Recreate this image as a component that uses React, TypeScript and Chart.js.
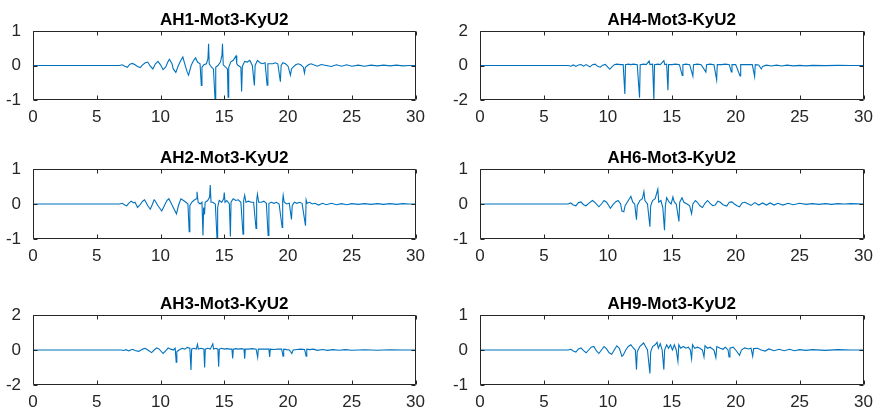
import React, { useEffect, useRef } from "react";
import { Chart, registerables } from "chart.js";

Chart.register(...registerables);

type Pt = [number, number];

// time (s) grid for x axis
const xTicks = [0, 5, 10, 15, 20, 25, 30];

const titles = [
  "AH1-Mot3-KyU2",
  "AH4-Mot3-KyU2",
  "AH2-Mot3-KyU2",
  "AH6-Mot3-KyU2",
  "AH3-Mot3-KyU2",
  "AH9-Mot3-KyU2",
];
const yLimits = [1, 2, 1, 1, 2, 1];

const ah1: Pt[] = [
  [0, 0], [6.8, 0], [7.0, 0.02], [7.2, -0.02], [7.4, -0.05], [7.6, 0.04], [7.8, 0.06], [8.0, 0.02], [8.2, -0.03], [8.4, -0.06],
  [8.6, 0.02], [8.8, 0.08], [9.0, 0.1], [9.2, -0.02], [9.4, -0.1], [9.6, 0.05], [9.8, 0.12], [10.0, 0.02], [10.2, -0.12], [10.4, -0.05],
  [10.6, 0.12], [10.7, 0.18], [10.9, 0.05], [11.0, -0.1], [11.2, -0.2], [11.4, 0.0], [11.6, 0.15], [11.75, 0.25], [11.9, 0.05], [12.1, -0.2],
  [12.2, -0.28], [12.4, 0.0], [12.6, 0.15], [12.75, 0.22], [12.9, 0.1], [13.1, 0.05], [13.2, -0.58], [13.25, -0.05], [13.4, 0.02], [13.6, 0.05],
  [13.72, 0.2], [13.77, 0.63], [13.82, 0.05], [14.0, -0.05], [14.15, -0.1], [14.28, -1.0], [14.33, -0.05], [14.5, 0.0], [14.7, 0.1], [14.82, 0.3],
  [14.86, 0.63], [14.92, 0.02], [15.1, -0.05], [15.25, -0.1], [15.3, -0.92], [15.35, -0.05], [15.5, 0.1], [15.7, 0.15], [15.92, 0.28], [15.98, 0.05],
  [16.1, 0.0], [16.3, -0.05], [16.36, -0.75], [16.42, -0.02], [16.6, 0.12], [16.8, 0.1], [17.0, 0.15], [17.2, 0.0], [17.36, -0.58], [17.42, 0.0],
  [17.6, 0.15], [17.8, 0.08], [18.0, 0.05], [18.2, 0.08], [18.36, -0.57], [18.42, 0.05], [18.6, 0.05], [18.8, 0.05], [19.0, 0.08], [19.2, 0.05],
  [19.4, -0.47], [19.46, 0.0], [19.6, 0.08], [19.8, 0.05], [20.0, -0.02], [20.19, -0.28], [20.27, -0.1], [20.4, -0.05], [20.6, 0.02], [20.8, 0.05],
  [21.0, 0.02], [21.2, -0.05], [21.29, -0.22], [21.36, -0.05], [21.6, 0.02], [21.8, 0.05], [22.0, 0.02], [22.3, -0.02], [22.6, 0.03], [23.0, 0.0],
  [23.4, -0.03], [23.8, 0.02], [24.2, -0.02], [24.6, 0.02], [25.0, -0.02], [25.5, 0.01], [26.0, -0.02], [26.5, 0.01], [27.0, -0.01], [27.5, 0.01],
  [28.0, -0.01], [28.5, 0.01], [29.0, -0.01], [29.5, 0.0], [30, 0],
];

const ah2: Pt[] = [
  [0, 0], [6.8, 0], [7.0, 0.02], [7.2, -0.03], [7.35, -0.05], [7.5, 0.02], [7.7, 0.08], [7.9, 0.03], [8.0, 0.05], [8.2, -0.1],
  [8.4, -0.02], [8.6, 0.08], [8.75, 0.12], [8.9, 0.02], [9.0, -0.05], [9.2, -0.15], [9.35, -0.02], [9.5, 0.12], [9.6, 0.08], [9.8, -0.05],
  [10.1, -0.2], [10.3, -0.05], [10.5, 0.1], [10.65, 0.15], [10.8, 0.05], [11.0, -0.1], [11.25, -0.28], [11.4, -0.05], [11.6, 0.15], [11.8, 0.1],
  [12.0, 0.05], [12.15, 0.0], [12.25, -0.79], [12.3, -0.05], [12.45, 0.05], [12.6, 0.1], [12.8, 0.15], [12.86, 0.35], [12.95, 0.05], [13.1, 0.0],
  [13.25, 0.05], [13.33, -0.9], [13.38, -0.1], [13.45, -0.3], [13.5, 0.05], [13.7, 0.1], [13.85, 0.2], [13.9, 0.54], [13.96, 0.05], [14.1, 0.05],
  [14.3, 0.0], [14.43, -1.0], [14.48, -0.1], [14.6, 0.1], [14.8, 0.05], [14.95, 0.15], [15.0, 0.33], [15.06, 0.05], [15.2, 0.1], [15.4, 0.0],
  [15.48, -0.93], [15.53, 0.05], [15.7, 0.15], [15.9, 0.1], [16.1, 0.12], [16.3, 0.05], [16.47, -0.86], [16.52, 0.1], [16.6, 0.25], [16.7, 0.05],
  [16.9, 0.08], [17.1, 0.05], [17.3, 0.05], [17.49, -0.7], [17.54, 0.1], [17.6, 0.28], [17.7, 0.05], [17.9, 0.05], [18.1, 0.08], [18.3, 0.02],
  [18.44, -0.9], [18.5, 0.02], [18.7, 0.05], [18.9, 0.02], [19.1, 0.05], [19.3, 0.0], [19.54, -0.67], [19.58, 0.1], [19.62, 0.25], [19.7, 0.05],
  [19.9, 0.0], [20.1, 0.02], [20.27, -0.44], [20.33, -0.05], [20.5, 0.05], [20.7, 0.02], [20.9, 0.05], [21.1, 0.02], [21.37, -0.62], [21.42, 0.12],
  [21.5, 0.02], [21.7, 0.05], [21.9, 0.0], [22.1, 0.02], [22.4, -0.03], [22.7, 0.02], [23.0, -0.02], [23.4, 0.02], [23.8, -0.02], [24.2, 0.01],
  [24.6, -0.02], [25.0, 0.01], [25.5, -0.01], [26.0, 0.01], [26.5, -0.01], [27.0, 0.01], [27.5, -0.01], [28.0, 0.01], [28.5, -0.01], [29.0, 0.01],
  [29.5, 0.0], [30, 0],
];

const ah3: Pt[] = [
  [0, 0], [6.9, 0], [7.1, -0.03], [7.3, 0.02], [7.5, -0.05], [7.8, 0.04], [8.0, -0.03], [8.3, -0.08], [8.6, 0.05], [8.8, 0.1],
  [9.0, 0.0], [9.3, -0.15], [9.5, 0.0], [9.7, 0.12], [9.9, 0.05], [10.2, -0.2], [10.4, -0.05], [10.6, 0.12], [10.8, 0.05], [11.0, 0.0],
  [11.15, 0.1], [11.23, -0.7], [11.28, -0.1], [11.45, 0.0], [11.7, 0.1], [11.9, 0.05], [12.1, 0.15], [12.3, 0.1], [12.39, -1.14], [12.44, 0.05],
  [12.6, 0.1], [12.8, 0.05], [12.9, 0.32], [12.96, 0.05], [13.2, 0.1], [13.4, 0.05], [13.46, -1.0], [13.51, 0.05], [13.7, 0.1], [13.9, 0.05],
  [14.1, 0.35], [14.16, 0.05], [14.35, 0.1], [14.5, 0.05], [14.56, -0.95], [14.61, 0.05], [14.8, 0.1], [15.0, 0.05], [15.2, 0.08], [15.45, 0.05],
  [15.6, 0.05], [15.66, -0.48], [15.71, 0.05], [15.9, 0.08], [16.1, 0.05], [16.35, 0.08], [16.55, 0.05], [16.6, -0.5], [16.65, 0.05], [16.9, 0.05],
  [17.2, 0.08], [17.5, 0.05], [17.62, -0.42], [17.67, 0.05], [17.9, 0.05], [18.2, 0.05], [18.5, 0.05], [18.56, -0.4], [18.61, 0.05], [18.9, 0.03],
  [19.2, 0.05], [19.5, 0.05], [19.61, -0.35], [19.66, 0.05], [19.9, 0.02], [20.1, 0.0], [20.3, -0.2], [20.4, 0.0], [20.7, 0.03], [21.0, 0.05],
  [21.3, 0.03], [21.42, -0.35], [21.47, 0.05], [21.7, 0.02], [22.0, 0.05], [22.3, -0.02], [22.7, 0.03], [23.1, -0.02], [23.5, 0.02], [24.0, -0.01],
  [24.5, 0.02], [25.0, -0.01], [26.0, 0.01], [27.0, -0.01], [28.0, 0.01], [29.0, 0.0], [30, 0],
];

const ah4: Pt[] = [
  [0, 0], [6.9, 0], [7.1, -0.04], [7.3, 0.03], [7.5, -0.05], [7.7, 0.03], [7.9, 0.06], [8.1, -0.04], [8.3, 0.05], [8.6, -0.08],
  [8.8, 0.05], [9.0, 0.08], [9.2, -0.05], [9.4, -0.1], [9.6, 0.02], [9.8, 0.06], [10.0, -0.1], [10.15, -0.22], [10.3, -0.1], [10.5, 0.05],
  [10.7, 0.08], [11.0, 0.05], [11.2, 0.05], [11.33, -1.65], [11.38, 0.05], [11.6, 0.08], [11.8, 0.05], [12.0, 0.08], [12.3, 0.05], [12.48, -1.87],
  [12.53, 0.05], [12.8, 0.08], [13.0, 0.05], [13.23, 0.26], [13.3, 0.05], [13.5, 0.08], [13.6, -2.0], [13.65, 0.05], [13.9, 0.08], [14.1, 0.05],
  [14.38, 0.28], [14.45, 0.05], [14.6, 0.08], [14.7, -1.43], [14.75, 0.05], [15.0, 0.05], [15.3, 0.08], [15.6, 0.05], [15.82, -0.58], [15.87, 0.05],
  [16.1, 0.08], [16.4, 0.05], [16.65, -0.62], [16.7, 0.05], [17.0, 0.08], [17.3, 0.05], [17.67, -0.38], [17.72, 0.05], [18.0, 0.08], [18.3, 0.05],
  [18.51, -0.83], [18.56, 0.05], [18.9, 0.05], [19.2, 0.08], [19.5, 0.05], [19.66, -0.38], [19.71, 0.05], [20.0, 0.06], [20.34, -0.6], [20.39, 0.05],
  [20.7, 0.06], [21.0, 0.05], [21.3, 0.05], [21.48, -0.64], [21.53, 0.05], [21.8, 0.03], [22.0, -0.2], [22.1, -0.05], [22.4, 0.02], [22.8, -0.03],
  [23.2, 0.02], [23.6, -0.03], [24.0, 0.02], [24.5, -0.02], [25.0, 0.01], [25.5, -0.02], [26.0, 0.01], [27.0, -0.01], [28.0, 0.01], [29.0, 0.0],
  [30, 0],
];

const ah6: Pt[] = [
  [0, 0], [6.9, 0], [7.1, 0.03], [7.3, -0.03], [7.5, -0.05], [7.7, 0.04], [7.9, 0.06], [8.1, -0.02], [8.3, -0.05], [8.5, 0.02],
  [8.8, 0.1], [9.0, 0.04], [9.3, -0.08], [9.5, 0.0], [9.7, 0.1], [9.9, 0.05], [10.2, -0.12], [10.4, -0.02], [10.6, 0.06], [10.8, 0.1],
  [11.0, 0.0], [11.1, -0.2], [11.25, -0.22], [11.35, -0.05], [11.6, 0.1], [11.8, 0.22], [11.95, 0.05], [12.1, 0.0], [12.24, -0.45], [12.3, -0.05],
  [12.5, 0.1], [12.7, 0.15], [12.82, 0.36], [12.9, 0.1], [13.1, 0.0], [13.29, -0.65], [13.35, -0.05], [13.5, 0.1], [13.7, 0.15], [13.91, 0.42],
  [13.98, 0.05], [14.15, 0.1], [14.3, -0.1], [14.43, -0.75], [14.5, -0.05], [14.6, 0.18], [14.8, 0.05], [14.95, 0.0], [15.09, 0.2], [15.2, 0.05],
  [15.35, 0.0], [15.56, -0.5], [15.62, 0.05], [15.8, 0.18], [15.95, 0.05], [16.2, 0.0], [16.4, -0.05], [16.55, -0.28], [16.65, 0.0], [16.85, 0.1],
  [17.0, 0.05], [17.2, -0.05], [17.4, -0.1], [17.6, 0.02], [17.8, 0.1], [18.0, 0.02], [18.2, -0.05], [18.4, -0.03], [18.6, 0.08], [18.8, 0.05],
  [19.0, -0.02], [19.3, -0.06], [19.5, 0.05], [19.7, 0.06], [19.9, 0.0], [20.1, -0.05], [20.3, -0.08], [20.5, 0.03], [20.7, 0.05], [21.0, 0.0],
  [21.2, -0.04], [21.5, 0.04], [21.8, -0.03], [22.1, 0.03], [22.4, -0.03], [22.7, 0.03], [23.0, -0.03], [23.3, 0.02], [23.7, -0.03], [24.1, 0.02],
  [24.5, -0.02], [25.0, 0.02], [25.5, -0.01], [26.0, 0.01], [26.5, -0.01], [27.0, 0.01], [27.5, -0.01], [28.0, 0.01], [28.5, 0.0], [29.0, 0.01],
  [30, 0],
];

const ah9: Pt[] = [
  [0, 0], [6.9, 0], [7.1, 0.02], [7.3, -0.03], [7.5, -0.06], [7.7, 0.03], [7.9, 0.06], [8.1, -0.02], [8.3, -0.08], [8.5, 0.0],
  [8.7, 0.08], [8.9, 0.1], [9.1, -0.02], [9.3, -0.1], [9.5, 0.0], [9.7, 0.1], [9.9, 0.03], [10.1, -0.08], [10.3, -0.12], [10.5, 0.0],
  [10.7, 0.12], [10.9, 0.05], [11.1, -0.18], [11.2, -0.15], [11.4, 0.0], [11.6, 0.1], [11.8, 0.15], [12.0, 0.05], [12.15, 0.0], [12.24, -0.56],
  [12.3, -0.05], [12.5, 0.1], [12.65, 0.15], [12.8, 0.2], [12.95, 0.1], [13.1, 0.0], [13.29, -0.67], [13.35, -0.05], [13.5, 0.1], [13.7, 0.15],
  [13.85, 0.22], [13.95, 0.05], [14.1, 0.18], [14.25, 0.0], [14.38, -0.56], [14.44, 0.0], [14.6, 0.15], [14.75, 0.05], [14.9, 0.15], [15.05, 0.0],
  [15.2, 0.15], [15.35, 0.0], [15.48, -0.32], [15.55, 0.15], [15.7, 0.05], [15.9, 0.1], [16.1, 0.05], [16.3, 0.08], [16.45, 0.0], [16.55, -0.25],
  [16.62, 0.15], [16.8, 0.05], [17.0, 0.08], [17.2, 0.05], [17.4, 0.0], [17.52, -0.2], [17.6, 0.12], [17.8, 0.05], [18.0, 0.08], [18.3, 0.0],
  [18.45, -0.22], [18.52, 0.1], [18.8, 0.05], [19.0, 0.02], [19.2, 0.08], [19.4, 0.0], [19.48, -0.2], [19.55, 0.05], [19.8, 0.08], [20.0, 0.0],
  [20.3, -0.15], [20.45, 0.0], [20.7, 0.06], [21.0, 0.03], [21.2, 0.05], [21.33, -0.18], [21.4, 0.04], [21.7, 0.05], [22.0, 0.0], [22.3, -0.03],
  [22.6, 0.03], [23.0, -0.02], [23.4, 0.02], [23.8, -0.02], [24.2, 0.02], [24.6, -0.02], [25.0, 0.01], [25.5, -0.01], [26.0, 0.01], [27.0, -0.01],
  [28.0, 0.01], [29.0, 0.0], [30, 0],
];

const seriesList: Pt[][] = [ah1, ah4, ah2, ah6, ah3, ah9];

// layout (pixels)
const colLayout = [
  { left: 0, width: 432 },
  { left: 447, width: 433 },
];
const rowLayout = [
  { top: 4, plotH: 69 },
  { top: 142, plotH: 70 },
  { top: 288, plotH: 70 },
];
const TITLE_H = 27;
const XAXIS_H = 25;
const FONT = "'Liberation Sans', Arial, Helvetica, sans-serif";
const AXIS_COLOR = "#262626";
const LINE_COLOR = "#0072BD";

// MATLAB-like box with inward ticks, and a title centred over the plot area
const boxPlugin = {
  id: "matlabBox",
  afterDatasetsDraw(chart: any, _args: any, opts: any) {
    const { ctx, chartArea: a, scales } = chart;
    const l = Math.round(a.left) + 0.5;
    const r = Math.round(a.right) - 0.5;
    const t = Math.round(a.top) + 0.5;
    const b = Math.round(a.bottom) - 0.5;
    const tl = 4;
    ctx.save();
    ctx.strokeStyle = AXIS_COLOR;
    ctx.lineWidth = 1;
    ctx.beginPath();
    ctx.rect(l, t, r - l, b - t);
    for (const v of xTicks) {
      const px = Math.round(scales.x.getPixelForValue(v)) + 0.5;
      ctx.moveTo(px, b);
      ctx.lineTo(px, b - tl);
      ctx.moveTo(px, t);
      ctx.lineTo(px, t + tl);
    }
    for (const tk of scales.y.ticks) {
      const py = Math.round(scales.y.getPixelForValue(tk.value)) + 0.5;
      ctx.moveTo(l, py);
      ctx.lineTo(l + tl, py);
      ctx.moveTo(r, py);
      ctx.lineTo(r - tl, py);
    }
    ctx.stroke();
    if (opts && opts.text) {
      ctx.fillStyle = "#000000";
      ctx.font = `bold 17px ${FONT}`;
      ctx.textAlign = "center";
      ctx.textBaseline = "alphabetic";
      ctx.fillText(opts.text, (a.left + a.right) / 2, a.top - 6);
    }
    ctx.restore();
  },
};

function Panel({ index }: { index: number }) {
  const ref = useRef<HTMLCanvasElement | null>(null);
  const col = colLayout[index % 2];
  const row = rowLayout[Math.floor(index / 2)];
  const height = TITLE_H + row.plotH + XAXIS_H;

  useEffect(() => {
    if (!ref.current) return;
    const yMax = yLimits[index];
    const chart = new Chart(ref.current, {
      type: "line",
      data: {
        datasets: [
          {
            data: seriesList[index].map(([x, y]) => ({ x, y })),
            borderColor: LINE_COLOR,
            borderWidth: 1.1,
            pointRadius: 0,
            tension: 0,
            fill: false,
          },
        ],
      },
      options: {
        animation: false,
        responsive: false,
        maintainAspectRatio: false,
        events: [],
        layout: { padding: { left: 0, right: 10, top: TITLE_H, bottom: 0 } },
        plugins: {
          legend: { display: false },
          tooltip: { enabled: false },
          title: { display: false },
          matlabBox: { text: titles[index] },
        },
        scales: {
          x: {
            type: "linear",
            min: 0,
            max: 30,
            grid: { display: false, drawTicks: false, tickLength: 0 },
            border: { display: false },
            ticks: {
              stepSize: 5,
              autoSkip: false,
              maxRotation: 0,
              padding: 7,
              color: AXIS_COLOR,
              font: { family: FONT, size: 17 },
            },
            afterFit: (s: any) => {
              s.height = XAXIS_H;
            },
          },
          y: {
            type: "linear",
            min: -yMax,
            max: yMax,
            grid: { display: false, drawTicks: false, tickLength: 0 },
            border: { display: false },
            ticks: {
              stepSize: yMax,
              padding: 12,
              color: AXIS_COLOR,
              font: { family: FONT, size: 17 },
            },
            afterFit: (s: any) => {
              s.width = 33;
            },
          },
        },
      } as any,
      plugins: [boxPlugin],
    });
    return () => chart.destroy();
  }, [index]);

  return (
    <canvas
      ref={ref}
      width={col.width}
      height={height}
      style={{
        position: "absolute",
        left: col.left,
        top: row.top,
        width: col.width,
        height: height,
      }}
    />
  );
}

export default function App() {
  return (
    <div
      style={{
        position: "fixed",
        left: 0,
        top: 0,
        width: 877,
        height: 410,
        overflow: "hidden",
        background: "#ffffff",
      }}
    >
      {titles.map((_, i) => (
        <Panel key={i} index={i} />
      ))}
    </div>
  );
}
